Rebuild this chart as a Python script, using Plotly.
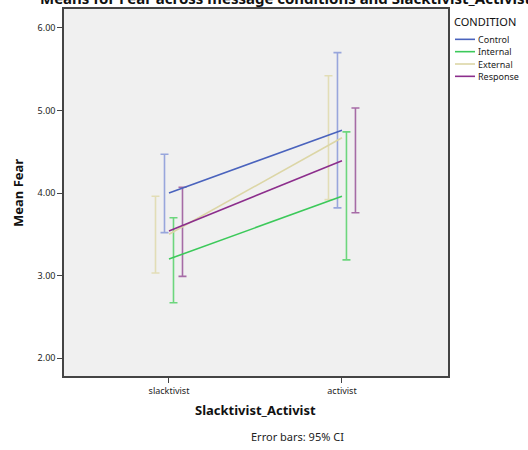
import plotly.graph_objects as go

categories = ["slacktivist", "activist"]
conditions = ["Control", "Internal", "External", "Response"]
means = {
    "Control":  [4.00, 4.76],
    "Internal": [3.20, 3.96],
    "External": [3.50, 4.67],
    "Response": [3.54, 4.39],
}
ci_upper = {
    "Control":  [4.47, 5.70],
    "Internal": [3.70, 4.74],
    "External": [3.96, 5.42],
    "Response": [4.07, 5.03],
}
ci_lower = {
    "Control":  [3.52, 3.82],
    "Internal": [2.67, 3.19],
    "External": [3.03, 3.92],
    "Response": [2.99, 3.76],
}
y_ticks = [2, 3, 4, 5, 6]
y_tick_labels = ["2.00", "3.00", "4.00", "5.00", "6.00"]

line_colors = {"Control": "#4a63bd", "Internal": "#3cc95a", "External": "#dcd6a6", "Response": "#8c2e8c"}
err_colors = {"Control": "#98a6dc", "Internal": "#6cd67d", "External": "#e2ddb6", "Response": "#a66ba6"}
dodge = {"External": -1.5, "Control": -0.5, "Internal": 0.5, "Response": 1.5}
dodge_step = 0.052

FONT = "Noto Sans"
xpos = list(range(len(categories)))

L, R, T, B = 64, 448, 7, 376
PW, PH = R - L, B - T


def px(x):
    return (x - L) / PW


def py(y):
    return 1 - (y - T) / PH


fig = go.Figure()
# error bars
for c in conditions:
    xs = [x + dodge[c] * dodge_step for x in xpos]
    fig.add_trace(go.Scatter(
        x=xs, y=means[c], mode="markers",
        marker=dict(size=1, opacity=0),
        error_y=dict(type="data", symmetric=False,
                     array=[u - m for u, m in zip(ci_upper[c], means[c])],
                     arrayminus=[m - l for l, m in zip(ci_lower[c], means[c])],
                     color=err_colors[c], thickness=1.6, width=4),
        showlegend=False, hoverinfo="skip"))
# mean lines
for c in conditions:
    fig.add_trace(go.Scatter(
        x=xpos, y=means[c], mode="lines", name=c,
        line=dict(color=line_colors[c], width=1.6),
        showlegend=False))

# custom legend
legend_y0 = 37.5
legend_dy = 12.4
for i, c in enumerate(conditions):
    ypix = legend_y0 + i * legend_dy
    fig.add_shape(type="line", xref="paper", yref="paper",
                  x0=px(455), x1=px(475), y0=py(ypix), y1=py(ypix),
                  line=dict(color=line_colors[c], width=1.6))
    fig.add_annotation(text=c, xref="paper", yref="paper",
                       x=px(476), y=py(ypix), height=11,
                       xanchor="left", yanchor="middle", showarrow=False,
                       font=dict(family=FONT, size=9, color="#222"))
fig.add_annotation(text="CONDITION", xref="paper", yref="paper",
                   x=px(452), y=py(20), height=13,
                   xanchor="left", yanchor="middle", showarrow=False,
                   font=dict(family=FONT, size=11, color="#111"))

# axis titles and footnote
fig.add_annotation(text="<b>Mean Fear</b>", xref="paper", yref="paper",
                   x=px(18), y=py(192), textangle=-90,
                   xanchor="center", yanchor="middle", showarrow=False,
                   font=dict(family=FONT, size=13, color="#111"))
fig.add_annotation(text="<b>Slacktivist_Activist</b>", xref="paper", yref="paper",
                   x=px(255), y=py(410),
                   xanchor="center", yanchor="middle", showarrow=False,
                   font=dict(family=FONT, size=13, color="#111"))
fig.add_annotation(text="Error bars: 95% CI", xref="paper", yref="paper",
                   x=px(297), y=py(437),
                   xanchor="center", yanchor="middle", showarrow=False,
                   font=dict(family=FONT, size=11, color="#222"))
# title, clipped at the top of the picture as in the reference
fig.add_annotation(text="<b>Means for Fear across message conditions and Slacktivist_Activist</b>",
                   xref="paper", yref="paper",
                   x=px(285), y=py(-4),
                   xanchor="center", yanchor="middle", showarrow=False,
                   font=dict(family=FONT, size=15, color="#111"))

fig.update_layout(
    width=528, height=450,
    margin=dict(l=L, r=528 - R, t=T, b=450 - B),
    paper_bgcolor="white", plot_bgcolor="#f0f0f0",
    font=dict(family=FONT, size=9, color="#222"),
    showlegend=False,
)
fig.update_xaxes(
    range=[-0.607, 1.613], tickvals=xpos, ticktext=categories,
    ticks="outside", ticklen=5, tickcolor="#444", tickfont=dict(size=9),
    showgrid=False, zeroline=False,
    showline=True, linecolor="#444", linewidth=1.5, mirror=True,
)
fig.update_yaxes(
    range=[1.783, 6.229], tickvals=y_ticks, ticktext=y_tick_labels,
    ticks="outside", ticklen=5, tickcolor="#444", tickfont=dict(size=9),
    showgrid=False, zeroline=False,
    showline=True, linecolor="#444", linewidth=1.5, mirror=True,
)

fig.write_html("out.html", config={"displayModeBar": False},
               post_script="document.body.style.margin='0';")
